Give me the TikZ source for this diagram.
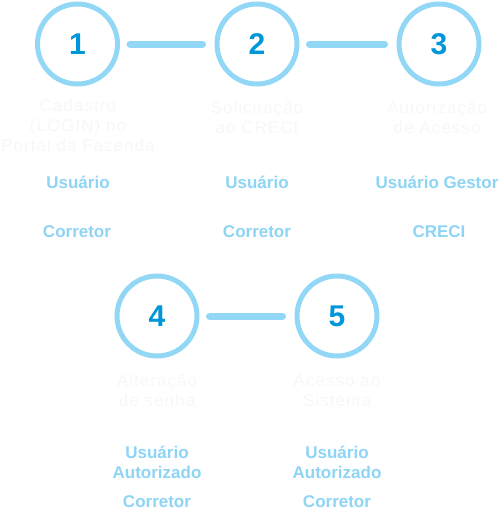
\documentclass[tikz,border=0pt]{standalone}
\usepackage{fontspec}
\setmainfont{Liberation Sans}
\newfontfamily\hintfont[LetterSpace=6]{Liberation Sans}
\usetikzlibrary{positioning}
\definecolor{ringblue}{RGB}{146,216,246}
\definecolor{numblue}{RGB}{0,150,218}
\definecolor{roleblue}{RGB}{142,212,244}
\definecolor{hintgray}{RGB}{247,247,247}
\begin{document}
\begin{tikzpicture}[x=1pt,y=-1pt,
    ring/.style={circle,draw=ringblue,line width=5pt,minimum size=80pt,inner sep=0pt,
      text=numblue,font=\fontsize{30}{30}\selectfont\bfseries},
    link/.style={draw=ringblue,line width=7pt,line cap=round,shorten <=10pt,shorten >=12pt},
    role/.style={anchor=base,inner sep=0pt,align=center,text=roleblue,
      font=\fontsize{17}{20}\selectfont\bfseries},
    hint/.style={anchor=base,inner sep=0pt,align=center,text=hintgray,
      font=\fontsize{17}{20}\selectfont\hintfont}]
  \useasboundingbox (0,0) rectangle (500,509);
  % steps
  \node[ring] (s1) at (77.5,44) {1};
  \node[ring] (s2) at (257,44) {2};
  \node[ring] (s3) at (439,44) {3};
  \node[ring] (s4) at (157,316) {4};
  \node[ring] (s5) at (337,316) {5};
  \draw[link] (s1) -- (s2);
  \draw[link] (s2) -- (s3);
  \draw[link] (s4) -- (s5);
  % step texts (base = last line)
  \node[hint] (h1) at (78,151) {Cadastro\\(LOGIN) no\\Portal da Fazenda};
  \node[hint] (h2) at (257,133) {Solicitação\\ao CRECI};
  \node[hint] (h3) at (437,133) {Autorização\\de Acesso};
  \node[hint] (h4) at (157,406) {Alteração\\de senha};
  \node[hint] (h5) at (337,406) {Acesso ao\\Sistema};
  % who
  \node[role] (u1) at (78,188) {Usuário};
  \node[role] (c1) at (77,237) {Corretor};
  \node[role] (u2) at (257,188) {Usuário};
  \node[role] (c2) at (257,237) {Corretor};
  \node[role] (u3) at (437,188) {Usuário Gestor};
  \node[role] (c3) at (439,237) {CRECI};
  \node[role] (u4) at (157,478) {Usuário\\Autorizado};
  \node[role] (c4) at (157,507) {Corretor};
  \node[role] (u5) at (337,478) {Usuário\\Autorizado};
  \node[role] (c5) at (337,507) {Corretor};
\end{tikzpicture}
\end{document}
